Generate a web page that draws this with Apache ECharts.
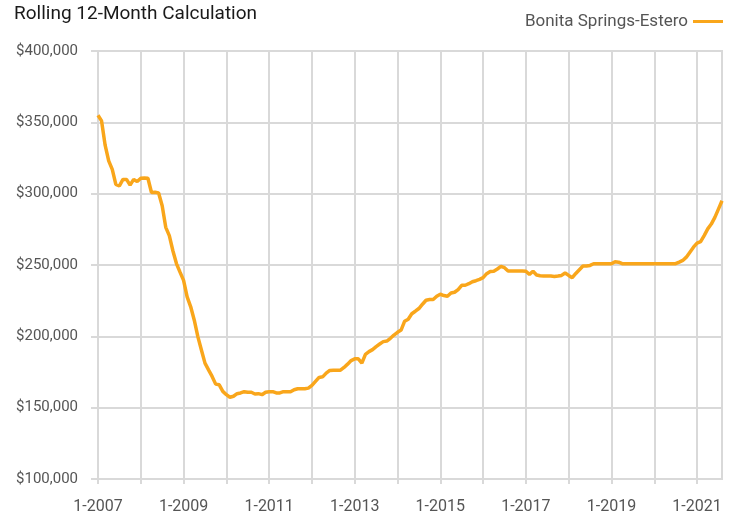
<!DOCTYPE html>
<html>
<head>
<meta charset="utf-8">
<script src="https://cdn.jsdelivr.net/npm/echarts@6/dist/echarts.min.js"></script>
<style>
html,body{margin:0;padding:0;background:#fff;}
#chart{width:733px;height:515px;}
</style>
</head>
<body>
<div id="chart"></div>
<script>
var titleText = "Rolling 12-Month Calculation";
var seriesName = "Bonita Springs-Estero";
var startYear = 2007;
var monthCount = 176;
var yTicks = [100000, 150000, 200000, 250000, 300000, 350000, 400000];

var values = [
  355000, 351000, 334000, 323000, 317000, 306500, 305500, 310000, 310000, 306000, 310000, 308500,
  310800, 311000, 310800, 300800, 301000, 300500, 291500, 276400, 270600, 260000, 251000, 245000,
  239200, 227700, 220700, 211300, 199800, 190400, 181200, 176500, 171900, 166500, 166000, 161400,
  159100, 157300, 158000, 159800, 160300, 161200, 160800, 160800, 159600, 159800, 159100, 160800,
  161200, 161200, 160300, 160300, 161200, 161200, 161200, 162600, 163300, 163300, 163300, 163700,
  165600, 168400, 171200, 171600, 174200, 176100, 176300, 176300, 176300, 178200, 180500, 183000,
  184200, 184200, 181200, 187400, 189300, 190700, 192800, 194600, 196300, 196700, 198600, 200900,
  202800, 204400, 210600, 212000, 215800, 217600, 219500, 222500, 225300, 225800, 225800, 228100,
  229500, 228600, 228100, 230400, 230900, 232800, 235800, 235800, 236900, 238300, 239000, 239900,
  241100, 243900, 245500, 245700, 247200, 249000, 248100, 245800, 245800, 245800, 245800, 245800,
  245600, 243400, 245600, 243000, 242500, 242300, 242300, 242300, 242000, 242300, 242700, 244400,
  242700, 241100, 244100, 246700, 249300, 249300, 249700, 250900, 250900, 250900, 250900, 250900,
  250900, 252300, 252000, 250900, 250900, 250900, 250900, 250900, 250900, 250900, 250900, 250900,
  250900, 250900, 250900, 250900, 250900, 250900, 250900, 252000, 253200, 255500, 259000, 262500,
  265300, 266400, 270600, 275300, 278700, 283400, 289200, 295000
];

var categories = [];
for (var i = 0; i < monthCount; i++) {
  var m = (i % 12) + 1;
  var y = startYear + Math.floor(i / 12);
  categories.push(m + "-" + y);
}

var gridColor = "#d9d9d9";
var textColor = "#555555";
var lineColor = "#F9A61B";
var fontFam = "Roboto, 'Liberation Sans', sans-serif";

var chart = echarts.init(document.getElementById("chart"), null, {renderer: "canvas"});
chart.setOption({
  animation: false,
  backgroundColor: "#fff",
  title: {
    text: titleText,
    left: 9,
    top: 0,
    textStyle: {fontFamily: fontFam, fontSize: 19, fontWeight: "normal", color: "#1a1a1a"}
  },
  legend: {
    right: 5,
    top: 8,
    align: "right",
    itemWidth: 30,
    itemHeight: 3,
    itemGap: 10,
    icon: "rect",
    textStyle: {fontFamily: fontFam, fontSize: 17, color: textColor},
    data: [{name: seriesName, icon: "rect"}]
  },
  grid: {
    left: 98,
    right: 11,
    top: 51,
    bottom: 33,
    show: true,
    borderColor: gridColor,
    borderWidth: 2,
    backgroundColor: "transparent"
  },
  xAxis: {
    type: "category",
    data: categories,
    boundaryGap: false,
    axisLine: {show: true, lineStyle: {color: gridColor, width: 2}},
    axisTick: {show: true, interval: 11, length: 5, lineStyle: {color: gridColor, width: 2}},
    axisLabel: {
      interval: 23,
      margin: 20,
      color: textColor,
      fontFamily: fontFam,
      fontSize: 16
    },
    splitLine: {show: true, interval: 11, lineStyle: {color: gridColor, width: 2}}
  },
  yAxis: {
    type: "value",
    min: yTicks[0],
    max: yTicks[yTicks.length - 1],
    interval: 50000,
    axisLine: {show: false},
    axisTick: {show: true, length: 7, lineStyle: {color: gridColor, width: 2}},
    axisLabel: {
      margin: 20,
      color: textColor,
      fontFamily: fontFam,
      fontSize: 15,
      formatter: function (v) { return "$" + v.toLocaleString("en-US"); }
    },
    splitLine: {show: true, lineStyle: {color: gridColor, width: 2}}
  },
  series: [{
    name: seriesName,
    type: "line",
    data: values,
    showSymbol: false,
    symbol: "none",
    smooth: false,
    lineStyle: {color: lineColor, width: 3.5},
    itemStyle: {color: lineColor}
  }]
});
</script>
</body>
</html>
